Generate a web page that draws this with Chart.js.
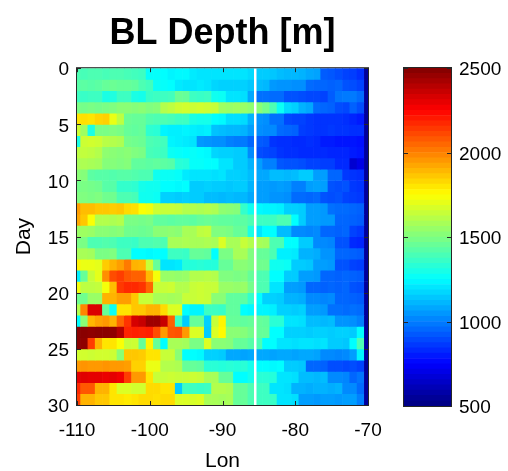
<!DOCTYPE html>
<html>
<head>
<meta charset="utf-8">
<script src="https://cdn.jsdelivr.net/npm/chart.js@4.4.1/dist/chart.umd.min.js"></script>
<style>
  html, body { margin: 0; padding: 0; background: #fff; }
  #wrap { position: relative; width: 508px; height: 471px; }
  #main { position: absolute; left: 0; top: 0; }
  #cbar { position: absolute; left: 380px; top: 0; }
</style>
</head>
<body>
<div id="wrap">
  <canvas id="main" width="508" height="471"></canvas>
  <canvas id="cbar" width="128" height="471"></canvas>
</div>
<script>
// ===============================
// DATA (BL depth in m, one array per day, cells centred on lon -110 .. -70)
// ===============================
const lonCenters = [-110, -109, -108, -107, -106, -105, -104, -103, -102, -101, -100,
  -99, -98, -97, -96, -95, -94, -93, -92, -91, -90,
  -89, -88, -87, -86, -85, -84, -83, -82, -81, -80,
  -79, -78, -77, -76, -75, -74, -73, -72, -71, -70];
const dayEdges = [0, 1, 2, 3, 4, 5, 6, 7, 8, 9, 10, 11, 12, 13, 14, 15, 16, 17, 18, 19, 20,
  21, 22, 23, 24, 25, 26, 27, 28, 29, 30];
const lonTicks = [-110, -100, -90, -80, -70];
const dayTicks = [0, 5, 10, 15, 20, 25, 30];
const cbarTicks = [500, 1000, 1500, 2000, 2500];
const sectionLon = -85.5;

const day00 = [1400,1390,1400,1400,1390,1400,1400,1390,1380,1370,1260,1260,1250,1230,1240,1240,1210,1200,1200,1200,1200,1200,1200,1200,1180,1150,1150,1140,1120,1110,1110,1100,1080,1070,930,920,900,880,870,840,560];
const day01 = [1420,1430,1420,1430,1450,1460,1450,1450,1440,1400,1380,1270,1260,1250,1210,1200,1200,1210,1200,1170,1160,1160,1160,1160,1140,1120,1110,1050,1040,1040,1030,1030,960,950,950,940,950,910,900,880,560];
const day02 = [1370,1360,1370,1370,1300,1310,1370,1370,1300,1290,1360,1370,1370,1380,1460,1450,1370,1360,1370,1280,1270,1200,1200,1190,1080,970,970,960,960,910,910,900,890,890,880,930,980,990,990,960,560];
const day03 = [1490,1480,1490,1480,1490,1500,1520,1520,1510,1520,1500,1510,1600,1620,1650,1660,1650,1660,1650,1640,1560,1550,1560,1550,1530,1520,1480,1400,1270,1180,1160,1100,1080,960,950,940,900,890,940,900,560];
const day04 = [1800,1810,1800,1830,1840,1710,1620,1460,1450,1450,1410,1400,1400,1390,1370,1370,1300,1290,1290,1250,1240,1190,1190,1180,1100,1040,1030,970,970,890,880,880,860,850,850,850,850,840,820,800,560];
const day05 = [1650,1560,1300,1490,1490,1500,1490,1450,1440,1450,1340,1330,1230,1220,1220,1230,1220,1210,1220,1130,1120,1110,1110,1100,1060,1030,1020,1020,960,950,940,870,860,850,850,860,850,850,840,840,560];
const day06 = [1300,1650,1660,1650,1610,1600,1590,1480,1470,1460,1400,1390,1380,1230,1220,1210,1200,1050,1040,1030,1030,1000,990,990,950,930,920,850,840,840,830,830,840,830,800,800,790,790,790,780,560];
const day07 = [1620,1630,1620,1600,1530,1520,1510,1520,1500,1490,1390,1380,1370,1270,1260,1250,1260,1250,1240,1170,1160,1160,1150,1150,1020,900,890,880,850,840,840,830,830,830,830,820,820,820,800,790,560];
const day08 = [1580,1590,1580,1570,1510,1510,1500,1510,1440,1440,1430,1440,1430,1420,1330,1320,1260,1260,1250,1250,1200,1200,1150,1150,1100,1060,1000,1000,920,910,910,900,880,880,870,870,830,830,660,700,560];
const day09 = [1520,1510,1430,1420,1420,1410,1420,1420,1410,1400,1400,1280,1270,1270,1260,1210,1200,1200,1200,1190,1200,1160,1160,1150,1120,1080,1080,1120,1120,1110,1120,1150,1150,1060,1060,950,950,860,850,840,560];
const day10 = [1480,1490,1480,1470,1420,1420,1350,1350,1340,1290,1280,1280,1250,1250,1240,1250,1150,1150,1160,1150,1150,1140,1150,1150,1100,1060,1060,1050,1060,1050,1000,1000,1060,1070,1060,910,900,910,860,850,560];
const day11 = [1500,1500,1490,1500,1470,1470,1400,1400,1390,1280,1280,1270,1160,1160,1150,1160,1150,1150,1120,1120,1110,1120,1110,1110,1080,1060,1060,1040,1040,1030,960,960,950,960,910,900,910,880,870,860,560];
const day12 = [1940,1880,1880,1860,1860,1850,1860,1820,1810,1740,1720,1650,1640,1640,1630,1600,1600,1590,1600,1590,1530,1520,1510,1350,1280,1240,1230,1230,1220,1160,1160,1150,1060,1060,1050,970,960,960,950,940,560];
const day13 = [1920,1860,1740,1600,1600,1590,1600,1490,1490,1480,1490,1440,1440,1430,1440,1440,1430,1450,1460,1450,1440,1440,1430,1430,1400,1370,1370,1370,1400,1400,1250,1150,1060,1060,1050,1050,950,950,940,930,560];
const day14 = [1550,1560,1550,1520,1520,1510,1520,1470,1470,1460,1470,1520,1520,1530,1520,1580,1580,1620,1630,1500,1500,1490,1450,1450,1300,1200,1250,1250,1120,1120,1020,1020,1010,1020,950,950,940,950,880,860,560];
const day15 = [1490,1490,1400,1400,1410,1400,1370,1370,1360,1400,1400,1410,1400,1580,1580,1590,1580,1580,1590,1580,1680,1580,1580,1640,1600,1580,1570,1400,1400,1250,1250,1150,1150,1020,1020,1010,910,910,830,820,560];
const day16 = [1580,1580,1570,1490,1490,1500,1400,1400,1250,1250,1240,1250,1250,1370,1370,1360,1450,1450,1440,1250,1490,1490,1580,1580,1500,1450,1450,1400,1220,1220,1210,1100,1100,1090,1040,1040,950,950,940,930,560];
const day17 = [1770,1710,1710,1700,1850,1900,1940,2010,1900,1890,1640,1450,1200,1200,1210,1320,1320,1330,1320,1320,1450,1450,1520,1520,1500,1470,1470,1280,1280,1270,1150,1150,1140,1060,1060,1050,910,910,880,870,560];
const day18 = [1220,1450,1640,1700,1970,2100,2130,2080,2060,2060,1890,1730,1550,1550,1540,1550,1600,1600,1610,1600,1500,1500,1490,1500,1450,1400,1400,1250,1250,1150,1150,1060,1060,1050,950,950,940,950,940,930,560];
const day19 = [1730,1620,1620,1630,1730,1880,2140,2170,2170,2150,2050,1640,1640,1650,1600,1600,1640,1650,1640,1640,1550,1550,1540,1550,1480,1400,1400,1200,1200,1060,1060,1050,950,950,940,950,940,950,910,900,560];
const day20 = [1470,1470,1550,1550,1900,1900,1940,1940,1860,1640,1640,1580,1580,1570,1580,1640,1640,1650,1640,1520,1520,1440,1440,1430,1350,1250,1160,1160,1150,1100,1100,1090,1020,1020,1010,1020,950,950,940,930,560];
const day21 = [1600,1990,2320,2320,1450,1270,1800,1800,1860,1860,1900,1900,1820,1680,1680,1250,1230,1230,1370,1370,1360,1440,1440,1250,1240,1230,1230,1220,1160,1160,1150,1160,1060,1060,1050,970,970,960,970,960,560];
const day22 = [1250,1520,1890,1930,1950,1900,2050,2150,2330,2360,2440,2440,2360,2060,1370,1150,1450,1450,1160,1640,1770,1450,1450,1440,1450,1450,1440,1330,1330,1200,1200,1190,1120,1120,1110,1120,1040,1040,1030,1000,560];
const day23 = [2480,2480,2470,2480,2480,2470,2400,2180,2190,2180,2190,2100,1950,2080,2090,1950,1680,1680,1150,1680,1760,1520,1520,1510,1480,1450,1450,1250,1250,1160,1160,1160,1150,1160,1160,1150,1160,1160,1150,1250,560];
const day24 = [2480,2470,2130,1900,1800,1800,1740,1640,1650,1450,1770,1450,1250,1580,1580,1570,1490,1490,1680,1520,1520,1510,1450,1450,1420,1400,1250,1250,1200,1200,1190,1200,1200,1190,1200,1150,1150,1140,1250,1400,560];
const day25 = [1660,1660,1650,1660,1660,1650,1520,1860,1860,1850,1800,1800,1640,1640,1520,1250,1250,1240,1160,1160,1150,1080,1080,1070,1080,1080,1080,1070,1080,1080,1070,1080,1080,1070,1020,1020,1010,1020,1060,1230,560];
const day26 = [1950,1960,1950,1950,1960,1950,1950,1940,1840,1840,1710,1710,1600,1600,1590,1450,1450,1440,1330,1330,1320,1330,1320,1330,1290,1250,1250,1240,1250,1150,1150,1140,950,950,940,900,900,890,900,880,560];
const day27 = [2300,2310,2300,2300,2290,2300,2280,2130,1950,1950,1800,1640,1640,1650,1640,1640,1650,1640,1580,1580,1450,1450,1250,1250,1290,1330,1330,1320,1200,1200,1190,1120,1120,1110,1120,1020,1020,1010,950,980,560];
const day28 = [2170,2080,2080,1900,1900,1800,1680,1680,1660,1660,1820,1820,1800,1800,1150,1370,1370,1360,1370,1600,1600,1590,1450,1450,1400,1370,1370,1200,1200,1190,1100,1100,1090,1100,1100,1090,1100,1020,1020,960,560];
const day29 = [2130,1900,1900,1860,1860,1800,1800,1790,1800,1820,1820,1810,1820,1820,1680,1680,1670,1680,1580,1580,1570,1580,1450,1450,1400,1370,1370,1360,1200,1200,1190,1060,1060,1050,1060,1060,1050,1060,1060,1000,560];

const depth = [day00, day01, day02, day03, day04, day05, day06, day07, day08, day09,
  day10, day11, day12, day13, day14, day15, day16, day17, day18, day19,
  day20, day21, day22, day23, day24, day25, day26, day27, day28, day29];

// ===============================
// COLOUR MAP (jet, 500 .. 2500)
// ===============================
const CMIN = 500;
const CMAX = 2500;
const clamp01 = (v) => Math.min(1, Math.max(0, v));

function jet(v) {
  const t = clamp01((v - CMIN) / (CMAX - CMIN));
  const r = clamp01(1.5 - Math.abs(4 * t - 3));
  const g = clamp01(1.5 - Math.abs(4 * t - 2));
  const b = clamp01(1.5 - Math.abs(4 * t - 1));
  return `rgb(${Math.round(r * 255)},${Math.round(g * 255)},${Math.round(b * 255)})`;
}

Chart.defaults.font.family = "'Liberation Sans', Arial, Helvetica, sans-serif";
Chart.defaults.color = "#000";

// frame + inward tick marks, drawn on top of the cells
const framePlugin = {
  id: "frame",
  afterDatasetsDraw(chart) {
    const { ctx, chartArea: a } = chart;
    ctx.save();
    ctx.strokeStyle = "#262626";
    ctx.lineWidth = 1;
    ctx.strokeRect(a.left - 0.5, a.top - 0.5, a.right - a.left + 1, a.bottom - a.top + 1);
    ctx.beginPath();
    Object.values(chart.scales).forEach((s) => {
      if (!s.options.display) return;
      s.ticks.forEach((t) => {
        const p = Math.round(s.getPixelForValue(t.value)) + 0.5;
        if (s.isHorizontal()) {
          ctx.moveTo(p, a.top);
          ctx.lineTo(p, a.top + 4);
          ctx.moveTo(p, a.bottom);
          ctx.lineTo(p, a.bottom - 4);
        } else {
          ctx.moveTo(a.left, p);
          ctx.lineTo(a.left + 4, p);
          ctx.moveTo(a.right, p);
          ctx.lineTo(a.right - 4, p);
        }
      });
    });
    ctx.stroke();
    ctx.restore();
  },
};

const tickFont = { size: 19 };
const labelFont = { size: 21 };

// ===============================
// HEATMAP
// ===============================
const cellSets = depth.map((row, r) => ({
  type: "bar",
  data: row.map((v, c) => ({ x: lonCenters[c], y: [dayEdges[r], dayEdges[r + 1]] })),
  backgroundColor: row.map(jet),
  borderWidth: 0,
  grouped: false,
  barPercentage: 1,
  categoryPercentage: 1,
  clip: 0,
  order: 1,
}));

const sectionLine = {
  type: "line",
  data: [
    { x: sectionLon, y: dayEdges[0] },
    { x: sectionLon, y: dayEdges[dayEdges.length - 1] },
  ],
  borderColor: "#ffffff",
  borderWidth: 2.5,
  pointRadius: 0,
  order: -1,
};

new Chart(document.getElementById("main"), {
  type: "bar",
  data: { datasets: [...cellSets, sectionLine] },
  plugins: [framePlugin],
  options: {
    responsive: false,
    animation: false,
    events: [],
    layout: { padding: { left: 0, right: 140, top: 0, bottom: 0 } },
    plugins: {
      legend: { display: false },
      tooltip: { enabled: false },
      title: {
        display: true,
        text: "BL Depth [m]",
        fullSize: false,
        color: "#000",
        font: { size: 36, weight: "bold" },
        padding: { top: 12, bottom: 13 },
      },
    },
    scales: {
      x: {
        type: "linear",
        min: -110,
        max: -70,
        offset: false,
        grid: { display: false, drawTicks: false },
        border: { display: false },
        afterBuildTicks: (s) => { s.ticks = lonTicks.map((v) => ({ value: v })); },
        afterFit: (s) => { s.height = 66; },
        ticks: { font: tickFont, padding: 14, maxRotation: 0 },
        title: { display: true, text: "Lon", font: labelFont, padding: { top: 0, bottom: -3 } },
      },
      y: {
        type: "linear",
        reverse: true,
        min: 0,
        max: 30,
        grid: { display: false, drawTicks: false },
        border: { display: false },
        afterBuildTicks: (s) => { s.ticks = dayTicks.map((v) => ({ value: v })); },
        afterFit: (s) => { s.width = 77; },
        ticks: { font: tickFont, padding: 8, labelOffset: 2 },
        title: { display: true, text: "Day", font: labelFont, padding: { top: 12, bottom: 0 } },
      },
    },
  },
});

// ===============================
// COLOUR BAR
// ===============================
const levels = 64;
const step = (CMAX - CMIN) / levels;
const bandSets = [];
for (let i = 0; i < levels; i++) {
  const lo = CMIN + i * step;
  bandSets.push({
    data: [[lo, lo + step]],
    backgroundColor: jet(lo + step / 2),
    borderWidth: 0,
    grouped: false,
    barPercentage: 1,
    categoryPercentage: 1,
  });
}

new Chart(document.getElementById("cbar"), {
  type: "bar",
  data: { labels: [""], datasets: bandSets },
  plugins: [framePlugin],
  options: {
    responsive: false,
    animation: false,
    events: [],
    layout: { padding: { left: 24, right: 0, top: 68, bottom: 65 } },
    plugins: { legend: { display: false }, tooltip: { enabled: false } },
    scales: {
      x: { display: false },
      y: {
        position: "right",
        min: CMIN,
        max: CMAX,
        grid: { display: false, drawTicks: false },
        border: { display: false },
        afterBuildTicks: (s) => { s.ticks = cbarTicks.map((v) => ({ value: v })); },
        afterFit: (s) => { s.width = 57; },
        ticks: { font: tickFont, padding: 8, labelOffset: 2, callback: (v) => String(v) },
      },
    },
  },
});
</script>
</body>
</html>
